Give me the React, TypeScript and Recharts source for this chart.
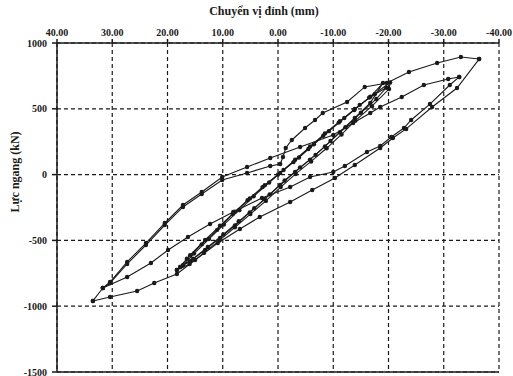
import { ScatterChart, Scatter, XAxis, YAxis, CartesianGrid, ReferenceLine } from 'recharts';

const xTicks = [40, 30, 20, 10, 0, -10, -20, -30, -40];
const yTicks = [1000, 500, 0, -500, -1000, -1500];

// largest cycle: from the -36 mm peak back down to the +33.5 mm peak
const outerDown = [
    { x: -36.4, y: 878 }, { x: -32.4, y: 658 }, { x: -27.9, y: 514 }, { x: -23.2, y: 347 },
    { x: -20.8, y: 278 }, { x: -18.5, y: 202 }, { x: -13.9, y: 73 }, { x: -10.3, y: -26 },
    { x: -6.2, y: -117 }, { x: -2.2, y: -208 }, { x: 3.3, y: -322 }, { x: 6.9, y: -413 },
    { x: 10.9, y: -520 }, { x: 15.0, y: -649 }, { x: 18.3, y: -755 }, { x: 22.4, y: -824 },
    { x: 25.5, y: -885 }, { x: 30.4, y: -930 }, { x: 33.5, y: -960 },
];

// +33.5 mm peak up to the second -33 mm peak
const outerUp = [
    { x: 33.5, y: -960 }, { x: 31.7, y: -862 }, { x: 30.4, y: -816 }, { x: 27.3, y: -664 },
    { x: 23.9, y: -520 }, { x: 20.5, y: -368 }, { x: 17.2, y: -231 }, { x: 13.8, y: -132 },
    { x: 10.1, y: -18 }, { x: 5.6, y: 58 }, { x: 1.4, y: 126 }, { x: -4.0, y: 210 },
    { x: -10.0, y: 301 }, { x: -13.6, y: 392 }, { x: -16.7, y: 468 }, { x: -18.5, y: 514 },
    { x: -22.4, y: 590 }, { x: -26.4, y: 681 }, { x: -30.8, y: 726 }, { x: -32.8, y: 742 },
];

// second -33 mm peak down to the +31.7 mm peak
const secondDown = [
    { x: -32.8, y: 742 }, { x: -31.1, y: 681 }, { x: -27.5, y: 536 }, { x: -24.1, y: 415 },
    { x: -22.8, y: 354 }, { x: -20.5, y: 286 }, { x: -18.5, y: 217 }, { x: -16.1, y: 172 },
    { x: -12.1, y: 65 }, { x: -10.0, y: 20 }, { x: -5.8, y: -18 }, { x: -2.2, y: -94 },
    { x: 2.9, y: -178 }, { x: 8.1, y: -284 }, { x: 12.3, y: -375 }, { x: 16.3, y: -474 },
    { x: 19.9, y: -573 }, { x: 23.0, y: -672 }, { x: 27.3, y: -778 }, { x: 31.7, y: -862 },
];

// S-shaped branch reaching the -36 mm peak
const secondUp = [
    { x: 31.7, y: -862 }, { x: 30.4, y: -824 }, { x: 27.3, y: -679 }, { x: 23.9, y: -535 },
    { x: 20.5, y: -383 }, { x: 17.2, y: -246 }, { x: 13.8, y: -147 }, { x: 10.1, y: -41 },
    { x: 5.6, y: 12 }, { x: 1.4, y: 65 }, { x: -0.4, y: 80 }, { x: -0.9, y: 134 },
    { x: -1.4, y: 202 }, { x: -2.5, y: 263 }, { x: -4.9, y: 354 }, { x: -6.7, y: 415 },
    { x: -8.1, y: 468 }, { x: -12.5, y: 552 }, { x: -15.7, y: 666 }, { x: -19.7, y: 696 },
    { x: -23.7, y: 780 }, { x: -28.8, y: 848 }, { x: -33.1, y: 894 }, { x: -36.4, y: 878 },
];

// small cycles around +-20 mm
const cycle1 = [
    { x: 17.7, y: -702 }, { x: 15.9, y: -612 }, { x: 13.2, y: -497 }, { x: 10.5, y: -389 },
    { x: 7.8, y: -281 }, { x: 5.1, y: -181 }, { x: 2.4, y: -81 }, { x: -0.4, y: 13 },
    { x: -3.1, y: 113 }, { x: -5.8, y: 213 }, { x: -8.5, y: 313 }, { x: -11.2, y: 406 },
    { x: -13.9, y: 498 }, { x: -16.7, y: 591 }, { x: -19.0, y: 696 },
    { x: -16.7, y: 545 }, { x: -13.9, y: 430 }, { x: -11.2, y: 322 }, { x: -8.5, y: 214 },
    { x: -5.8, y: 114 }, { x: -3.1, y: 21 }, { x: -0.4, y: -79 }, { x: 2.4, y: -187 },
    { x: 5.1, y: -287 }, { x: 7.8, y: -387 }, { x: 10.5, y: -481 }, { x: 13.2, y: -573 },
    { x: 15.9, y: -658 }, { x: 17.7, y: -702 },
];

const cycle2 = [
    { x: 18.3, y: -725 }, { x: 16.5, y: -640 }, { x: 13.8, y: -530 }, { x: 11.0, y: -420 },
    { x: 8.2, y: -300 }, { x: 5.5, y: -195 }, { x: 2.8, y: -95 }, { x: 0.0, y: 0 },
    { x: -2.8, y: 95 }, { x: -5.5, y: 195 }, { x: -8.2, y: 295 }, { x: -11.0, y: 395 },
    { x: -13.8, y: 490 }, { x: -16.5, y: 585 }, { x: -20.3, y: 700 },
    { x: -20.1, y: 650 }, { x: -17.0, y: 520 }, { x: -14.0, y: 410 }, { x: -11.5, y: 305 },
    { x: -8.8, y: 200 }, { x: -6.0, y: 100 }, { x: -3.2, y: 5 }, { x: -0.5, y: -95 },
    { x: 2.2, y: -200 }, { x: 5.0, y: -300 }, { x: 7.8, y: -400 }, { x: 10.6, y: -500 },
    { x: 13.4, y: -595 }, { x: 16.0, y: -680 }, { x: 18.3, y: -725 },
];

const cycle3 = [
    { x: 17.2, y: -690 }, { x: 15.2, y: -600 }, { x: 12.5, y: -490 }, { x: 9.8, y: -380 },
    { x: 7.0, y: -270 }, { x: 4.4, y: -165 }, { x: 1.6, y: -60 }, { x: -1.0, y: 35 },
    { x: -3.8, y: 130 }, { x: -6.5, y: 230 }, { x: -9.2, y: 330 }, { x: -12.0, y: 430 },
    { x: -14.8, y: 530 }, { x: -17.5, y: 610 }, { x: -19.6, y: 660 },
    { x: -17.8, y: 575 }, { x: -15.0, y: 470 }, { x: -12.2, y: 360 }, { x: -9.5, y: 255 },
    { x: -6.8, y: 150 }, { x: -4.0, y: 55 }, { x: -1.2, y: -45 }, { x: 1.5, y: -150 },
    { x: 4.3, y: -255 }, { x: 7.1, y: -355 }, { x: 9.9, y: -455 }, { x: 12.7, y: -550 },
    { x: 15.4, y: -640 }, { x: 17.2, y: -690 },
];

const series = [cycle1, cycle2, cycle3, outerDown, outerUp, secondDown, secondUp];

const ink = '#1a1a1a';
const tickFont = { fontFamily: 'Liberation Serif', fontWeight: 700, fontSize: 10, fill: ink };

const Dot = (props: any) => <circle cx={props.cx} cy={props.cy} r={2.2} fill={ink} />;

export default function App() {
    return (
        <div style={{ position: 'absolute', left: 0, top: 0, width: 513, height: 376, background: '#fff' }}>
            <ScatterChart width={513} height={376} margin={{ top: 23, right: 14, bottom: 4, left: 0 }}>
                <CartesianGrid stroke={ink} strokeDasharray="4 3" strokeWidth={1.2} />
                <XAxis
                    type="number"
                    dataKey="x"
                    orientation="top"
                    reversed
                    domain={[-40, 40]}
                    ticks={xTicks}
                    interval={0}
                    height={20}
                    tickFormatter={(v: number) => v.toFixed(2)}
                    tick={tickFont}
                    tickSize={4}
                    tickMargin={3}
                    stroke={ink}
                    strokeWidth={1.5}
                />
                <YAxis
                    type="number"
                    dataKey="y"
                    domain={[-1500, 1000]}
                    ticks={yTicks}
                    interval={0}
                    width={57}
                    tick={tickFont}
                    tickSize={5}
                    tickMargin={5}
                    stroke={ink}
                    strokeWidth={1.5}
                />
                <ReferenceLine y={-1500} stroke={ink} strokeWidth={1.5} />
                {series.map((d, i) => (
                    <Scatter
                        key={i}
                        data={d}
                        line={{ stroke: ink, strokeWidth: 1.1 }}
                        shape={<Dot />}
                        isAnimationActive={false}
                    />
                ))}
            </ScatterChart>
            <div style={{
                position: 'absolute', left: 164, top: 4, width: 200, textAlign: 'center',
                fontFamily: 'Liberation Serif', fontWeight: 700, fontSize: 12, color: ink,
            }}>
                Chuyển vị đỉnh (mm)
            </div>
            <div style={{
                position: 'absolute', left: 15, top: 172, width: 110, marginLeft: -55, marginTop: -7,
                textAlign: 'center', transform: 'rotate(-90deg)',
                fontFamily: 'Liberation Serif', fontWeight: 700, fontSize: 12, color: ink, lineHeight: '14px',
            }}>
                Lực ngang (kN)
            </div>
        </div>
    );
}
